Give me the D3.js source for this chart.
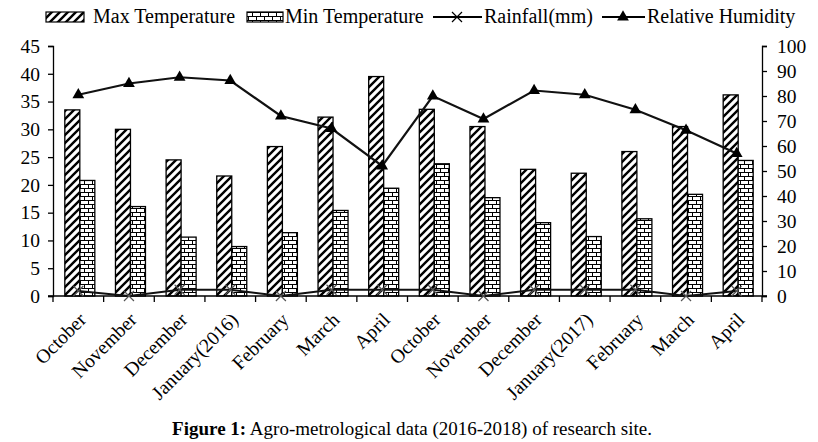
<!DOCTYPE html>
<html><head><meta charset="utf-8">
<script src="https://cdn.jsdelivr.net/npm/d3@7"></script>
<style>body{margin:0;background:#fff}svg{display:block}text{font-family:"Liberation Serif","Times New Roman",serif;fill:#000}</style>
</head><body><svg id="c" width="818" height="442"></svg>
<script>
const categories = ["October","November","December","January(2016)","February","March","April","October","November","December","January(2017)","February","March","April"];
const maxTemp = [33.5, 30.0, 24.5, 21.6, 26.9, 32.2, 39.5, 33.6, 30.5, 22.8, 22.1, 26.0, 30.5, 36.2];
const minTemp = [20.8, 16.1, 10.6, 8.9, 11.4, 15.4, 19.4, 23.8, 17.7, 13.2, 10.7, 13.9, 18.3, 24.4];
const rainfall = [2, 0, 2.5, 2.5, 0, 2.5, 2.5, 2.5, 0, 2.5, 2.5, 2.5, 0, 2];
const humidity = [80.5, 85, 87.5, 86.2, 72, 67, 52, 80, 70.8, 82.2, 80.5, 74.5, 66.3, 57];
const leftTicks = [0,5,10,15,20,25,30,35,40,45];
const rightTicks = [0,10,20,30,40,50,60,70,80,90,100];
const legendLabels = ["Max Temperature","Min Temperature","Rainfall(mm)","Relative Humidity"];

const svg = d3.select("#c");
const L = 53, R = 762, T = 46, B = 296;
const x = d3.scaleBand().domain(d3.range(categories.length)).range([L, R]).paddingInner(0).paddingOuter(0);
const yL = d3.scaleLinear().domain([0,45]).range([B,T]);
const yR = d3.scaleLinear().domain([0,100]).range([B,T]);

const defs = svg.append("defs");
const hp = defs.append("pattern").attr("id","hatch").attr("patternUnits","userSpaceOnUse").attr("width",8).attr("height",8);
hp.append("rect").attr("width",8).attr("height",8).attr("fill","#fff");
hp.append("path").attr("d","M-2,2 L2,-2 M0,8 L8,0 M6,10 L10,6").attr("stroke","#000").attr("stroke-width",2.4);
const bp = defs.append("pattern").attr("id","brick").attr("patternUnits","userSpaceOnUse").attr("width",8).attr("height",8);
bp.append("rect").attr("width",8).attr("height",8).attr("fill","#fff");
bp.append("path").attr("d","M0,0.5 H8 M0,4.5 H8 M0.5,0.5 V4.5 M4.5,4.5 V8.5").attr("stroke","#000").attr("stroke-width",1).attr("fill","none");

const bw = 15, off = 1.5;
const g = svg.append("g");
g.selectAll("rect.max").data(maxTemp).join("rect")
  .attr("x",(d,i)=>x(i)+x.bandwidth()/2+off-bw).attr("y",d=>yL(d)).attr("width",bw).attr("height",d=>B-yL(d))
  .attr("fill","url(#hatch)").attr("stroke","#000").attr("stroke-width",1.3);
g.selectAll("rect.min").data(minTemp).join("rect")
  .attr("x",(d,i)=>x(i)+x.bandwidth()/2+off).attr("y",d=>yL(d)).attr("width",bw).attr("height",d=>B-yL(d))
  .attr("fill","url(#brick)").attr("stroke","#000").attr("stroke-width",1.3);

// axes
const axL = svg.append("g").attr("transform",`translate(${L},0)`).call(d3.axisLeft(yL).tickValues(leftTicks).tickSize(5).tickPadding(8));
const axR = svg.append("g").attr("transform",`translate(${R},0)`).call(d3.axisRight(yR).tickValues(rightTicks).tickSize(5).tickPadding(10));
[axL,axR].forEach(a=>{a.select(".domain").attr("stroke","#000").attr("stroke-width",1.3);a.selectAll(".tick line").attr("stroke","#000").attr("stroke-width",1.3);a.selectAll("text").attr("font-size",19.5).attr("font-family","Liberation Serif");});
const bx = svg.append("g");
bx.append("line").attr("x1",L-5).attr("x2",R+5).attr("y1",B).attr("y2",B).attr("stroke","#000").attr("stroke-width",1.3);
bx.selectAll("line.t").data(d3.range(categories.length+1)).join("line")
  .attr("x1",i=>L+i*x.bandwidth()).attr("x2",i=>L+i*x.bandwidth()).attr("y1",B).attr("y2",B+6).attr("stroke","#000").attr("stroke-width",1.3);
bx.selectAll("text").data(categories).join("text")
  .attr("transform",(d,i)=>`translate(${x(i)+x.bandwidth()/2+9},${B+25}) rotate(-45)`)
  .attr("text-anchor","end").attr("font-size",19.5).text(d=>d);

// lines
const line = (ys,arr)=>d3.line().x((d,i)=>x(i)+x.bandwidth()/2).y(d=>ys(d))(arr);
svg.append("path").attr("d",line(yR,rainfall)).attr("fill","none").attr("stroke","#111").attr("stroke-width",2);
svg.selectAll("path.xm").data(rainfall).join("path")
  .attr("transform",(d,i)=>`translate(${x(i)+x.bandwidth()/2},${yR(d)})`)
  .attr("d","M-5,-5 L5,5 M-5,5 L5,-5").attr("stroke","#555").attr("stroke-width",1.2);
svg.append("path").attr("d",line(yR,humidity)).attr("fill","none").attr("stroke","#111").attr("stroke-width",2.2);
svg.selectAll("path.tm").data(humidity).join("path")
  .attr("transform",(d,i)=>`translate(${x(i)+x.bandwidth()/2},${yR(d)})`)
  .attr("d",d3.symbol(d3.symbolTriangle,60)()).attr("fill","#000");

// legend
const lg = svg.append("g");
const ly = 17;
lg.append("rect").attr("x",46).attr("y",ly-5).attr("width",38).attr("height",10).attr("fill","url(#hatch)").attr("stroke","#000").attr("stroke-width",1.2);
lg.append("text").attr("x",93).attr("y",ly+6).attr("font-size",20).text(legendLabels[0]);
lg.append("rect").attr("x",247).attr("y",ly-5).attr("width",36).attr("height",10).attr("fill","url(#brick)").attr("stroke","#000").attr("stroke-width",1.2);
lg.append("text").attr("x",285).attr("y",ly+6).attr("font-size",20).text(legendLabels[1]);
lg.append("line").attr("x1",433).attr("x2",482).attr("y1",ly).attr("y2",ly).attr("stroke","#000").attr("stroke-width",2);
lg.append("path").attr("transform",`translate(457,${ly})`).attr("d","M-5,-5 L5,5 M-5,5 L5,-5").attr("stroke","#000").attr("stroke-width",1.2);
lg.append("text").attr("x",484).attr("y",ly+6).attr("font-size",20).text(legendLabels[2]);
lg.append("line").attr("x1",602).attr("x2",645).attr("y1",ly).attr("y2",ly).attr("stroke","#000").attr("stroke-width",2);
lg.append("path").attr("transform",`translate(623,${ly})`).attr("d",d3.symbol(d3.symbolTriangle,60)()).attr("fill","#000");
lg.append("text").attr("x",647).attr("y",ly+6).attr("font-size",20).text(legendLabels[3]);

// caption
const cap = svg.append("text").attr("x",412).attr("y",435).attr("text-anchor","middle").attr("font-size",19);
cap.append("tspan").attr("font-weight","bold").text("Figure 1:");
cap.append("tspan").text(" Agro-metrological data (2016-2018) of research site.");
</script></body></html>
